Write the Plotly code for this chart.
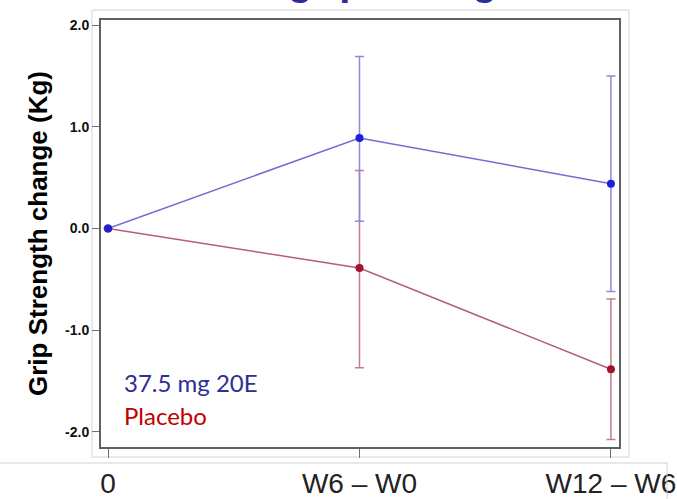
import plotly.graph_objects as go

# ---- data ----
x_pos = [0, 1, 2]
x_labels = ["0", "W6 – W0", "W12 – W6"]
series_names = ["37.5 mg 20E", "Placebo"]

treat_mean = [0.0, 0.89, 0.44]
treat_err_up = [None, 0.80, 1.06]
treat_err_down = [None, 0.82, 1.06]

placebo_mean = [0.0, -0.39, -1.385]
placebo_err_up = [None, 0.96, 0.69]
placebo_err_down = [None, 0.98, 0.69]

y_ticks = [2.0, 1.0, 0.0, -1.0, -2.0]
y_ticklabels = ["2.0", "1.0", "0.0", "-1.0", "-2.0"]

title_text = "Increase in grip strength"
y_title = "Grip Strength change (Kg)"

# ---- layout geometry ----
W, H = 677, 499
L, R, T, B = 101, 58, 20, 52
PW, PH = W - L - R, H - T - B


def px2paper_x(px):
    return (px - L) / PW


def px2paper_y(py):
    return (H - B - py) / PH


fig = go.Figure()

# Placebo first (drawn beneath)
fig.add_trace(go.Scatter(
    x=x_pos, y=placebo_mean, name=series_names[1], mode="lines+markers",
    line=dict(color="#b5606e", width=1.5),
    marker=dict(color="#a3122e", size=8),
    error_y=dict(type="data", symmetric=False, array=placebo_err_up,
                 arrayminus=placebo_err_down, color="#c47c88",
                 thickness=1.5, width=4.5),
    showlegend=False,
))
fig.add_trace(go.Scatter(
    x=x_pos, y=treat_mean, name=series_names[0], mode="lines+markers",
    line=dict(color="#6f6fd2", width=1.5),
    marker=dict(color="#1f1fd6", size=8),
    error_y=dict(type="data", symmetric=False, array=treat_err_up,
                 arrayminus=treat_err_down, color="#8a8ae0",
                 thickness=1.5, width=4.5),
    showlegend=False,
))

fig.update_layout(
    width=W, height=H,
    margin=dict(l=L, r=R, t=T, b=B, pad=0),
    paper_bgcolor="white", plot_bgcolor="white",
    xaxis=dict(
        range=[-0.028, 2.032], tickmode="array", tickvals=x_pos, ticktext=x_labels,
        automargin=False,
        showgrid=False, zeroline=False, showline=True, mirror=True,
        linecolor="#606060", linewidth=2,
        ticks="outside", ticklen=9, tickcolor="#707070", tickwidth=1,
        ticklabelstandoff=1,
        tickfont=dict(family="Liberation Sans, Arial, sans-serif", size=28, color="#222222"),
    ),
    yaxis=dict(
        range=[-2.15, 2.05], tickmode="array", tickvals=y_ticks, ticktext=y_ticklabels,
        automargin=False,
        showgrid=False, zeroline=False, showline=True, mirror=True,
        linecolor="#606060", linewidth=2,
        ticks="outside", ticklen=7, tickcolor="#707070", tickwidth=1,
        tickfont=dict(family="Liberation Sans, Arial, sans-serif", size=14, color="#111111", weight="bold"),
        title=dict(text=y_title, standoff=10,
                   font=dict(family="Liberation Sans, Arial, sans-serif", size=26, color="#000000", weight="bold")),
    ),
    shapes=[
        # light outer border around the chart graphic
        dict(type="rect", xref="paper", yref="paper",
             x0=px2paper_x(92), x1=px2paper_x(629), y0=px2paper_y(457), y1=px2paper_y(10),
             line=dict(color="#d4d4d4", width=1), layer="below"),
        # band for category labels
        dict(type="line", xref="paper", yref="paper",
             x0=px2paper_x(0), x1=px2paper_x(667), y0=px2paper_y(463), y1=px2paper_y(463),
             line=dict(color="#d0d0d0", width=1)),
        dict(type="line", xref="paper", yref="paper",
             x0=px2paper_x(667), x1=px2paper_x(667), y0=px2paper_y(463), y1=px2paper_y(499),
             line=dict(color="#d0d0d0", width=1)),
    ],
    annotations=[
        dict(text=series_names[0], xref="paper", yref="paper",
             x=px2paper_x(122), y=px2paper_y(382), xanchor="left", yanchor="middle",
             showarrow=False, font=dict(family="Lato, sans-serif", size=24, color="#2e2e96")),
        dict(text=series_names[1], xref="paper", yref="paper",
             x=px2paper_x(122), y=px2paper_y(415), xanchor="left", yanchor="middle",
             showarrow=False, font=dict(family="Lato, sans-serif", size=24, color="#c00000")),
        dict(text=title_text, xref="paper", yref="paper",
             x=px2paper_x(66), y=px2paper_y(5), xanchor="left", yanchor="bottom",
             showarrow=False,
             font=dict(family="Liberation Sans, Arial, sans-serif", size=40, color="#2b2b9e", weight="bold")),
    ],
)

fig.write_html(
    "out.html",
    config={"displayModeBar": False},
    post_script="document.body.style.margin='0';document.body.style.overflow='hidden';",
)
